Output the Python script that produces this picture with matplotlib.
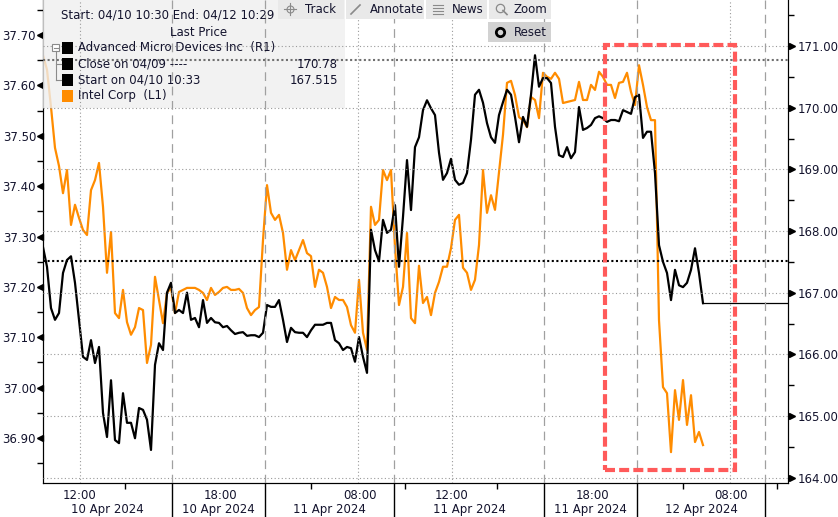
import matplotlib.pyplot as plt
import numpy as np
from matplotlib.patches import Rectangle
from matplotlib.lines import Line2D

plt.rcParams['font.family'] = ['DejaVu Sans']
plt.rcParams['font.size'] = 8.5

# Intel Corp (left axis), one value per bar
intc = [
    37.660, 37.631, 37.557, 37.476, 37.440, 37.386, 37.432, 37.323, 37.363, 37.337,
    37.313, 37.303, 37.392, 37.412, 37.446, 37.359, 37.228, 37.309, 37.148, 37.138,
    37.194, 37.130, 37.105, 37.120, 37.158, 37.154, 37.049, 37.085, 37.220, 37.174,
    37.128, 37.188, 37.198, 37.148, 37.190, 37.194, 37.198, 37.198, 37.198, 37.194,
    37.188, 37.174, 37.198, 37.184, 37.190, 37.198, 37.200, 37.194, 37.194, 37.196,
    37.188, 37.158, 37.144, 37.154, 37.160, 37.293, 37.402, 37.347, 37.333, 37.343,
    37.307, 37.234, 37.273, 37.253, 37.273, 37.293, 37.267, 37.261, 37.200, 37.234,
    37.228, 37.200, 37.158, 37.180, 37.174, 37.174, 37.160, 37.124, 37.109, 37.214,
    37.109, 37.075, 37.359, 37.323, 37.333, 37.432, 37.412, 37.432, 37.279, 37.164,
    37.200, 37.307, 37.138, 37.128, 37.242, 37.168, 37.180, 37.144, 37.188, 37.210,
    37.240, 37.240, 37.277, 37.333, 37.343, 37.238, 37.228, 37.194, 37.214, 37.283,
    37.432, 37.347, 37.382, 37.353, 37.428, 37.502, 37.605, 37.609, 37.581, 37.537,
    37.531, 37.517, 37.577, 37.571, 37.535, 37.625, 37.617, 37.613, 37.625, 37.613,
    37.565, 37.567, 37.569, 37.571, 37.607, 37.571, 37.571, 37.601, 37.591, 37.627,
    37.617, 37.601, 37.601, 37.575, 37.605, 37.607, 37.625, 37.587, 37.561, 37.640,
    37.601, 37.557, 37.531, 37.531, 37.134, 37.001, 36.989, 36.872, 36.995, 36.936,
    37.015, 36.926, 36.985, 36.892, 36.912, 36.886,
]

# Advanced Micro Devices (right axis)
amd = [
    167.74, 167.42, 166.75, 166.56, 166.67, 167.32, 167.53, 167.59, 167.16, 166.56,
    165.96, 165.91, 166.23, 165.86, 166.12, 165.05, 164.66, 165.58, 164.61, 164.56,
    165.37, 164.89, 164.89, 164.64, 165.13, 165.10, 164.94, 164.45, 165.83, 166.18,
    166.07, 167.00, 167.16, 166.67, 166.72, 166.67, 167.00, 166.56, 166.59, 166.44,
    166.88, 166.51, 166.59, 166.52, 166.51, 166.44, 166.46, 166.39, 166.33, 166.35,
    166.36, 166.30, 166.31, 166.31, 166.28, 166.35, 166.80, 166.77, 166.77, 166.88,
    166.56, 166.20, 166.43, 166.36, 166.35, 166.35, 166.28, 166.39, 166.48, 166.48,
    166.48, 166.51, 166.51, 166.23, 166.18, 166.07, 166.12, 166.10, 165.88, 166.28,
    165.96, 165.70, 168.02, 167.69, 167.51, 168.18, 167.97, 168.02, 168.42, 167.42,
    168.23, 169.15, 168.34, 169.36, 169.52, 169.96, 170.12, 169.99, 169.88, 169.27,
    168.83, 168.94, 169.17, 168.83, 168.75, 168.78, 168.94, 169.48, 170.21, 170.29,
    170.08, 169.75, 169.52, 169.43, 169.88, 170.09, 170.29, 170.21, 169.85, 169.44,
    169.85, 169.69, 170.21, 170.85, 170.34, 170.48, 170.48, 170.40, 169.69, 169.23,
    169.20, 169.36, 169.18, 169.28, 170.01, 169.64, 169.67, 169.72, 169.83, 169.86,
    169.83, 169.77, 169.80, 169.80, 169.78, 169.96, 169.93, 169.90, 170.17, 170.21,
    169.51, 169.61, 169.61, 168.94, 167.77, 167.50, 167.32, 166.88, 167.37, 167.12,
    167.09, 167.16, 167.37, 167.72, 167.32, 166.83,
]

close_0409 = 170.78
start_0410 = 167.515

# x axis (bar index) labelling
time_pos = [9.25, 44.25, 79.25, 102.25, 137.25, 172.0]
time_lbl = ['12:00', '18:00', '08:00', '12:00', '18:00', '08:00']
grid_pos = [9.25, 78.75, 102.25, 171.75]
sep_pos = [32.25, 55.5, 87.75, 125.25, 148.5, 180.5]
minor_pos = [20.5, 67, 90.5, 113.5, 160, 183.5]
dates = ['10 Apr 2024', '10 Apr 2024', '11 Apr 2024', '11 Apr 2024', '11 Apr 2024', '12 Apr 2024']

left_ticks = np.round(np.arange(36.9, 37.75, 0.1), 2)
right_ticks = np.arange(164, 172)

W, H = 838, 517
TXT = '#14142e'
ORANGE = '#ff8c00'


def fx(x):
    return x / W


def fy(y):
    return 1 - y / H


fig = plt.figure(figsize=(W / 100, H / 100), dpi=100)
ax = fig.add_axes([fx(43), 34 / H, 745 / W, 483 / H])
axr = ax.twinx()

x = np.arange(len(amd))
xmax = 186.25

ax.plot(x, intc, color=ORANGE, lw=1.6)
ax.set_xlim(0, xmax)
ax.set_ylim(36.8107, 37.7695)

axr.plot(x, amd, color='black', lw=1.6, zorder=5)
axr.plot([x[-1], xmax], [amd[-1], amd[-1]], color='black', lw=0.9, zorder=5)
axr.set_ylim(163.914, 171.746)

# grid
for v in right_ticks:
    axr.axhline(v, color='#9a9a9a', lw=0.8, ls=(0, (1, 2.2)), zorder=6)
for p in grid_pos:
    axr.axvline(p, color='#9a9a9a', lw=0.8, ls=(0, (1, 2.2)), zorder=6)
for p in sep_pos:
    axr.axvline(p, color='#a0a0a0', lw=0.9, ls=(0, (7, 4.5)), zorder=6)

axr.axhline(close_0409, color='#707070', lw=1.5, ls=(0, (1, 1.2)), zorder=6)
axr.axhline(start_0410, color='black', lw=1.5, ls=(0, (1, 1.2)), zorder=6)

# highlight box
axr.add_patch(Rectangle((140.4, 164.12), 173 - 140.4, 171.02 - 164.12, fill=False,
                        edgecolor='#ff5a5a', lw=3, ls=(0, (2.4, 1.0)), zorder=7))

# legend panel
axr.add_patch(Rectangle((0, 1 - 108 / 483), 302 / 745, 108 / 483, transform=axr.transAxes,
                        facecolor='#efefef', edgecolor='none', alpha=0.8, zorder=5.5))

# axes styling
for a in (ax, axr):
    a.spines['top'].set_visible(False)
    for s in ('left', 'right', 'bottom'):
        a.spines[s].set_color('black')

ax.set_yticks(left_ticks)
ax.set_yticklabels([f'{v:.2f}' for v in left_ticks], color=TXT)
ax.set_yticks(np.round(np.arange(36.85, 37.8, 0.1), 2), minor=True)
ax.tick_params(axis='y', which='major', length=0, pad=5)
ax.tick_params(axis='y', which='minor', length=4, width=1, direction='out')

axr.set_yticks(right_ticks)
axr.set_yticklabels([f'{v:.2f}' for v in right_ticks], color=TXT)
axr.set_yticks(np.arange(164.5, 172, 1.0), minor=True)
axr.tick_params(axis='y', which='major', length=0, pad=7)
axr.tick_params(axis='y', which='minor', length=4, width=1, direction='out')

ax.plot(np.full(len(left_ticks), -3.5 / 745), left_ticks, ls='none', marker='<', ms=5,
        color='black', transform=ax.get_yaxis_transform(), clip_on=False)
axr.plot(np.full(len(right_ticks), 1 + 3.5 / 745), right_ticks, ls='none', marker='>', ms=5,
         color='black', transform=axr.get_yaxis_transform(), clip_on=False)

ax.set_xticks(time_pos)
ax.set_xticklabels(time_lbl, color=TXT)
ax.set_xticks(minor_pos, minor=True)
ax.tick_params(axis='x', which='major', length=0, pad=4)
ax.tick_params(axis='x', which='minor', length=4, width=1)

bounds = [0] + sep_pos
xt = ax.get_xaxis_transform()
for i, d in enumerate(dates):
    ax.text((bounds[i] + bounds[i + 1]) / 2, -26 / 483, d, transform=xt,
            ha='center', va='center', color=TXT)
for p in sep_pos:
    ax.add_line(Line2D([p, p], [0, -34 / 483], transform=xt, color='black', lw=1, clip_on=False))

# legend text
fig.text(fx(61), fy(15), 'Start: 04/10 10:30 End: 04/12 10:29', va='center', color=TXT)
fig.text(fx(199), fy(32), 'Last Price', va='center', ha='center', color=TXT)
rows = [('Advanced Micro Devices Inc  (R1)', '', 'black', 48),
        ('Close on 04/09 ----', '170.78', 'black', 64),
        ('Start on 04/10 10:33', '167.515', 'black', 80),
        ('Intel Corp  (L1)', '', ORANGE, 96)]
for label, val, col, yy in rows:
    fig.add_artist(Rectangle((fx(62), fy(yy + 5.5)), 11 / W, 11 / H, transform=fig.transFigure,
                             facecolor=col, edgecolor='none'))
    fig.text(fx(78), fy(yy), label, va='center', color=TXT)
    if val:
        fig.text(fx(338), fy(yy), val, va='center', ha='right', color=TXT)

# tree connector
fig.add_artist(Rectangle((fx(52), fy(51)), 7 / W, 7 / H, transform=fig.transFigure,
                         facecolor='white', edgecolor='#8a8a8a', lw=0.8))
fig.add_artist(Line2D([fx(53.5), fx(57.5)], [fy(47.5), fy(47.5)], color='#8a8a8a', lw=0.8))
fig.add_artist(Line2D([fx(55.5), fx(55.5)], [fy(51), fy(80)], color='#8a8a8a', lw=0.8))
for yy in (64, 80):
    fig.add_artist(Line2D([fx(55.5), fx(61)], [fy(yy), fy(yy)], color='#8a8a8a', lw=0.8))

# toolbar buttons
buttons = [('Track', 278, 344, 305), ('Annotate', 346, 424, 370),
           ('News', 426, 487, 452), ('Zoom', 489, 551, 514)]
for name, x0, x1, tx in buttons:
    fig.add_artist(Rectangle((fx(x0), fy(19)), (x1 - x0) / W, 19 / H, transform=fig.transFigure,
                             facecolor='#e9e9e9', edgecolor='none'))
    fig.text(fx(tx), fy(9.5), name, va='center', color=TXT)
fig.add_artist(Rectangle((fx(488), fy(42)), 63 / W, 20 / H, transform=fig.transFigure,
                         facecolor='#d2d2d2', edgecolor='none'))
fig.text(fx(514), fy(32), 'Reset', va='center', color=TXT)

icon = '#8a8a8a'
fig.add_artist(Line2D([fx(284), fx(296)], [fy(9), fy(9)], color=icon, lw=0.8))
fig.add_artist(Line2D([fx(290), fx(290)], [fy(3), fy(15)], color=icon, lw=0.8))
fig.add_artist(Line2D([fx(290)], [fy(9)], marker='o', ms=5, mfc='none', mec=icon, mew=0.8))
fig.add_artist(Line2D([fx(351), fx(360)], [fy(14), fy(5)], color=icon, lw=1.2))
for yy in (5, 8, 11, 14):
    fig.add_artist(Line2D([fx(433), fx(443)], [fy(yy), fy(yy)], color=icon, lw=0.8))
fig.add_artist(Line2D([fx(500)], [fy(7.5)], marker='o', ms=6, mfc='none', mec=icon, mew=0.9))
fig.add_artist(Line2D([fx(503), fx(507)], [fy(10.5), fy(14.5)], color=icon, lw=1.2))
fig.add_artist(Line2D([fx(500)], [fy(32)], marker='o', ms=6, mfc='none', mec='black', mew=2))

fig.savefig('out.png', dpi=100)
